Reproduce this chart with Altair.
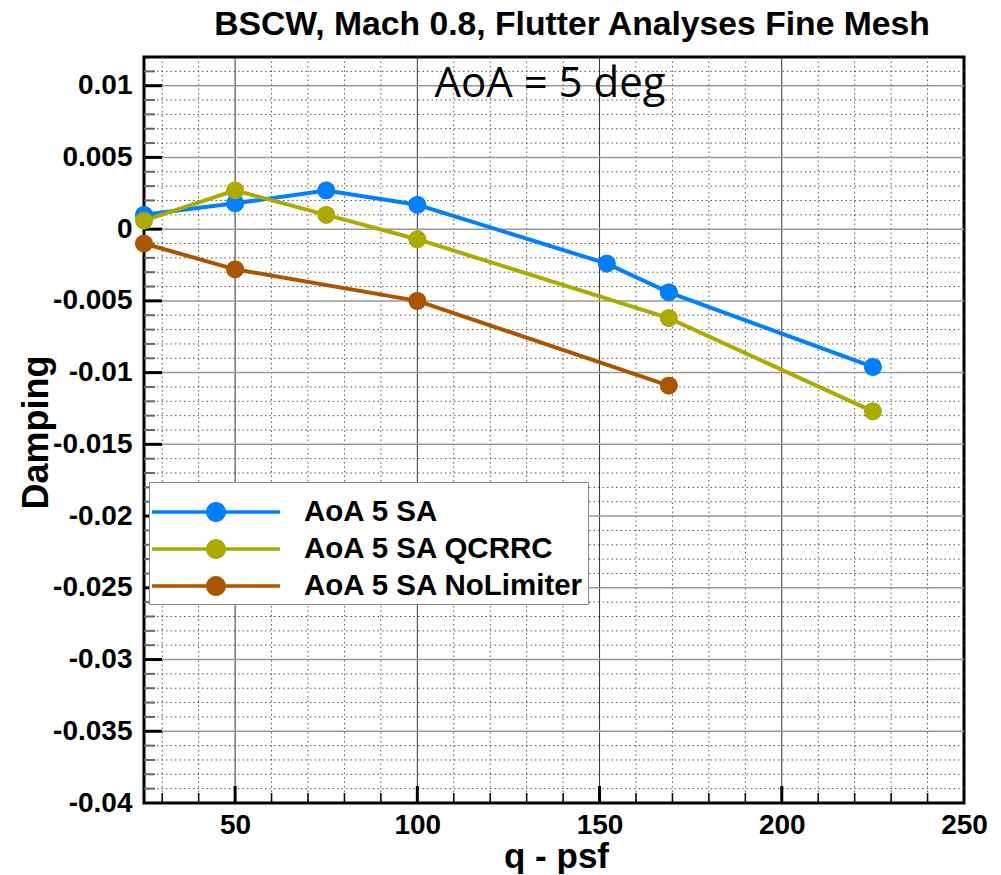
import altair as alt
import pandas as pd

# ---------------- data ----------------
series_names = ["AoA 5 SA", "AoA 5 SA QCRRC", "AoA 5 SA NoLimiter"]
series_colors = ["#0080FF", "#AAAA00", "#AA5500"]

q_sa = [25, 50, 75, 100, 152, 169, 225]
d_sa = [0.0010, 0.0018, 0.0027, 0.0017, -0.0024, -0.0044, -0.0096]

q_qcrrc = [25, 50, 75, 100, 169, 225]
d_qcrrc = [0.0006, 0.0027, 0.0010, -0.0007, -0.0062, -0.0127]

q_nolim = [25, 50, 100, 169]
d_nolim = [-0.0010, -0.0028, -0.0050, -0.0109]

x_tick_values = [50, 100, 150, 200, 250]
y_tick_values = [-0.04, -0.035, -0.03, -0.025, -0.02, -0.015, -0.01, -0.005, 0, 0.005, 0.01]
x_major_grid = [50, 100, 150, 200]
y_major_grid = [-0.035, -0.03, -0.025, -0.02, -0.015, -0.01, -0.005, 0, 0.005, 0.01]
x_minor_grid = [30, 40, 60, 70, 80, 90, 110, 120, 130, 140, 160, 170, 180, 190,
                210, 220, 230, 240]
y_minor_grid = [round(i / 1000, 3) for i in range(-39, 12) if i % 5 != 0]

title_text = "BSCW, Mach 0.8, Flutter Analyses Fine Mesh"
annotation_text = "AoA = 5 deg"
x_title = "q - psf"
y_title = "Damping"

# ---------------- tables ----------------
rows = []
for name, qs, ds in zip(series_names, [q_sa, q_qcrrc, q_nolim], [d_sa, d_qcrrc, d_nolim]):
    for i, (q, d) in enumerate(zip(qs, ds)):
        rows.append({"series": name, "q": q, "damping": d, "order": i})
df = pd.DataFrame(rows)

W, H = 820, 746
FONT = "Liberation Sans"

x_scale = alt.Scale(domain=[25, 250], nice=False, zero=False)
y_scale = alt.Scale(domain=[-0.04, 0.012], nice=False, zero=False)
c_scale = alt.Scale(domain=series_names, range=series_colors)

x_axis = alt.Axis(values=x_tick_values, grid=False, ticks=False, domain=False,
                  labelPadding=8, labelFlush=False, labelOverlap=False,
                  titleX=412, titleY=64, titleFontSize=35,
                  titleBaseline="alphabetic", titleAlign="center")
y_axis = alt.Axis(values=y_tick_values, grid=False, ticks=False, domain=False,
                  labelPadding=12, labelFlush=False, labelOverlap=False,
                  labelExpr="'' + datum.value",
                  titleX=-97, titleY=375, titleAngle=-90, titleFontSize=36,
                  titleBaseline="alphabetic", titleAlign="center")

# ---------------- grid (first layers carry the axes) ----------------
vminor = alt.Chart(pd.DataFrame({"v": x_minor_grid})).mark_rule(
    color="#555", strokeWidth=1, strokeDash=[1.5, 3]
).encode(x=alt.X("v:Q", scale=x_scale, title=x_title, axis=x_axis))

hminor = alt.Chart(pd.DataFrame({"v": y_minor_grid})).mark_rule(
    color="#555", strokeWidth=1, strokeDash=[1.5, 3]
).encode(y=alt.Y("v:Q", scale=y_scale, title=y_title, axis=y_axis))

vmajor = alt.Chart(pd.DataFrame({"v": x_major_grid})).mark_rule(
    color="#333", strokeWidth=1
).encode(x=alt.X("v:Q", scale=x_scale))

hmajor = alt.Chart(pd.DataFrame({"v": y_major_grid})).mark_rule(
    color="#999", strokeWidth=1.5
).encode(y=alt.Y("v:Q", scale=y_scale))

# ---------------- inward ticks ----------------
lt_major = alt.Chart(pd.DataFrame({"v": y_major_grid})).mark_rule(
    color="black", strokeWidth=3
).encode(y=alt.Y("v:Q", scale=y_scale), x=alt.value(0), x2=alt.value(18))

lt_minor = alt.Chart(pd.DataFrame({"v": y_minor_grid})).mark_rule(
    color="#666", strokeWidth=2
).encode(y=alt.Y("v:Q", scale=y_scale), x=alt.value(0), x2=alt.value(11))

bt_major = alt.Chart(pd.DataFrame({"v": x_major_grid})).mark_rule(
    color="black", strokeWidth=3
).encode(x=alt.X("v:Q", scale=x_scale), y=alt.value(H), y2=alt.value(H - 17))

bt_minor = alt.Chart(pd.DataFrame({"v": x_minor_grid})).mark_rule(
    color="black", strokeWidth=1.5
).encode(x=alt.X("v:Q", scale=x_scale), y=alt.value(H), y2=alt.value(H - 10))

# ---------------- data layers ----------------
sym_path = ("M-1,-0.028L1,-0.028L1,0.028L-1,0.028Z"
            "M0.156,0A0.156,0.156,0,1,1,-0.156,0A0.156,0.156,0,1,1,0.156,0Z")
legend_def = alt.Legend(
    title=" ", orient="none", legendX=5, legendY=425,
    symbolType=sym_path, symbolSize=16384, symbolStrokeWidth=0,
    clipHeight=28, rowPadding=7, labelOffset=24, labelLimit=600,
    labelFont=FONT, labelFontSize=29.5, labelFontWeight="bold", labelColor="black",
    titleFontSize=13, titlePadding=0,
    fillColor="white", strokeColor="#888", padding=3,
)


def points_layer(legend):
    return alt.Chart(df).mark_point(filled=True, size=314, opacity=1, strokeWidth=0).encode(
        x=alt.X("q:Q", scale=x_scale),
        y=alt.Y("damping:Q", scale=y_scale),
        color=alt.Color("series:N", scale=c_scale, legend=legend),
    )


points_under = points_layer(legend_def)

lines = alt.Chart(df).mark_line(strokeWidth=4).encode(
    x=alt.X("q:Q", scale=x_scale),
    y=alt.Y("damping:Q", scale=y_scale),
    color=alt.Color("series:N", scale=c_scale, legend=None),
    order=alt.Order("order:Q"),
)

points_top = points_layer(None)

annot = alt.Chart(pd.DataFrame({"t": [annotation_text]})).mark_text(
    font="Open Sans", fontSize=42, color="black", align="center", baseline="alphabetic"
).encode(x=alt.value(406), y=alt.value(40), text="t:N")

title_mark = alt.Chart(pd.DataFrame({"t": [title_text]})).mark_text(
    font=FONT, fontSize=33.7, fontWeight="bold", color="black",
    align="center", baseline="alphabetic"
).encode(x=alt.value(428), y=alt.value(-22), text="t:N")

chart = alt.layer(
    vminor, hminor, vmajor, hmajor, lt_minor, lt_major, bt_minor, bt_major,
    points_under, lines, points_top, annot, title_mark
).properties(
    width=W, height=H,
    autosize=alt.AutoSizeParams(type="none"),
    padding={"left": 136, "top": 49, "right": 29, "bottom": 71},
).configure_view(
    stroke="black", strokeWidth=3
).configure_axis(
    labelFont=FONT, labelFontSize=28, labelFontWeight="bold", labelColor="black",
    titleFont=FONT, titleFontSize=35, titleFontWeight="bold", titleColor="black",
)

chart.save("out.html", embed_options={"renderer": "svg", "actions": False})
